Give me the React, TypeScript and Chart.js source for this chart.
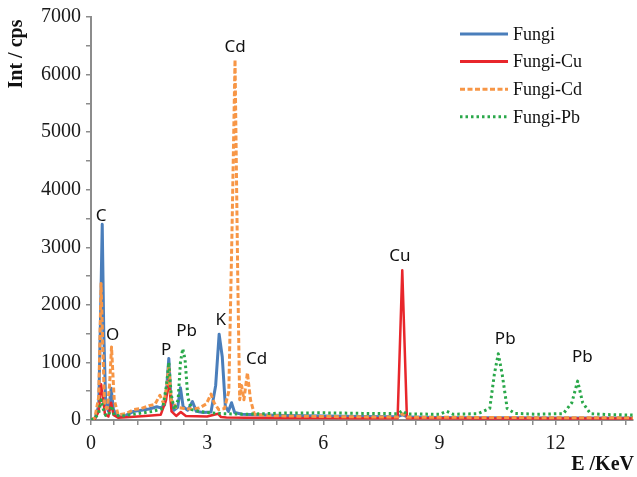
import React, { useEffect, useRef } from "react";
import { Chart, registerables } from "chart.js";

Chart.register(...registerables);

// ---- Data ----
const fungiE = [0, 0.1, 0.2, 0.25, 0.29, 0.33, 0.38, 0.45, 0.52, 0.58, 0.7, 0.9, 1.1, 1.3, 1.5, 1.7, 1.8, 1.9, 1.96, 2.01, 2.06, 2.14, 2.24, 2.31, 2.38, 2.5, 2.62, 2.72, 2.9, 3.1, 3.22, 3.31, 3.39, 3.47, 3.55, 3.63, 3.71, 3.9, 4.3, 5, 6, 7, 7.9, 8.04, 8.2, 9, 10, 11, 12, 13, 14];
const fungiInt = [0, 20, 250, 1900, 3400, 1500, 300, 150, 550, 180, 60, 80, 150, 170, 190, 230, 210, 260, 600, 1070, 420, 170, 220, 560, 230, 170, 320, 150, 130, 140, 600, 1490, 1100, 240, 150, 300, 130, 100, 90, 80, 70, 60, 55, 90, 50, 45, 40, 38, 35, 35, 35];

const cuE = [0, 0.1, 0.2, 0.26, 0.3, 0.36, 0.45, 0.52, 0.58, 0.7, 1, 1.4, 1.8, 1.94, 2.01, 2.08, 2.2, 2.32, 2.45, 3, 3.28, 3.36, 3.5, 4, 5, 6, 7, 7.92, 8.04, 8.16, 9, 10, 11, 12, 13, 14];
const cuInt = [0, 20, 150, 620, 450, 100, 60, 300, 90, 40, 50, 70, 90, 350, 700, 150, 70, 140, 70, 60, 110, 50, 45, 40, 35, 35, 32, 32, 2600, 32, 30, 28, 26, 25, 25, 25];

const cdE = [0, 0.1, 0.2, 0.26, 0.3, 0.35, 0.42, 0.48, 0.53, 0.6, 0.7, 0.9, 1.1, 1.3, 1.5, 1.65, 1.78, 1.88, 1.96, 2.01, 2.07, 2.2, 2.4, 2.6, 2.8, 2.98, 3.1, 3.18, 3.3, 3.45, 3.56, 3.64, 3.72, 3.79, 3.84, 3.89, 3.95, 4.04, 4.12, 4.22, 4.5, 5, 6, 7, 7.92, 8.04, 8.16, 9, 10, 11, 12, 13, 14];
const cdInt = [0, 40, 400, 2370, 1400, 250, 200, 600, 1270, 350, 90, 110, 180, 200, 250, 270, 430, 280, 600, 950, 350, 220, 200, 190, 210, 280, 450, 300, 180, 200, 500, 3200, 6260, 2500, 350, 600, 350, 820, 350, 100, 80, 70, 60, 55, 50, 110, 50, 48, 45, 42, 40, 40, 40];

const pbE = [0, 0.1, 0.2, 0.26, 0.31, 0.38, 0.46, 0.53, 0.6, 0.8, 1.2, 1.6, 1.85, 1.95, 2.01, 2.07, 2.15, 2.25, 2.31, 2.37, 2.43, 2.5, 2.6, 2.8, 3.0, 3.4, 4, 5, 6, 7, 7.92, 8.04, 8.16, 9, 9.19, 9.35, 10, 10.3, 10.42, 10.52, 10.62, 10.75, 10.95, 11.5, 12.2, 12.42, 12.57, 12.7, 12.9, 13.3, 14];
const pbInt = [0, 30, 120, 350, 200, 80, 90, 250, 80, 70, 110, 150, 200, 600, 1000, 450, 180, 350, 1000, 1240, 1050, 400, 180, 150, 130, 110, 100, 120, 125, 115, 110, 160, 105, 100, 150, 100, 110, 200, 800, 1150, 800, 200, 115, 100, 110, 300, 675, 300, 110, 95, 85];

const seriesNames = ["Fungi", "Fungi-Cu", "Fungi-Cd", "Fungi-Pb"];

const xTickValues = [0, 0.6, 1.2, 1.8, 2.4, 3, 3.6, 4.2, 4.8, 5.4, 6, 6.6, 7.2, 7.8, 8.4, 9, 9.6, 10.2, 10.8, 11.4, 12, 12.6, 13.2, 13.8];
const xTickLabels = [0, 3, 6, 9, 12];
const yTickValues = [0, 500, 1000, 1500, 2000, 2500, 3000, 3500, 4000, 4500, 5000, 5500, 6000, 6500, 7000];
const yTickLabels = [0, 1000, 2000, 3000, 4000, 5000, 6000, 7000];

const peakLabels = ["C", "O", "P", "Pb", "K", "Cd", "Cd", "Cu", "Pb", "Pb"];
const peakLabelE = [0.26, 0.56, 1.94, 2.47, 3.35, 3.72, 4.28, 7.98, 10.7, 12.69];
const peakLabelInt = [3540, 1470, 1210, 1540, 1730, 6480, 1050, 2840, 1400, 1090];

const toPoints = (xs: number[], ys: number[]) => xs.map((x, i) => ({ x, y: ys[i] }));

const SERIF = '"Liberation Serif", "Times New Roman", serif';

const overlayPlugin = {
  id: "overlay",
  afterDraw(chart: any) {
    const ctx = chart.ctx;
    const xs = chart.scales.x;
    const ys = chart.scales.y;
    ctx.save();
    // peak annotations
    ctx.font = '17px "Noto Sans", sans-serif';
    ctx.fillStyle = "#111";
    ctx.textAlign = "center";
    ctx.textBaseline = "middle";
    peakLabels.forEach((t, i) => {
      ctx.fillText(t, xs.getPixelForValue(peakLabelE[i]), ys.getPixelForValue(peakLabelInt[i]));
    });
    // legend
    chart.data.datasets.forEach((ds: any, i: number) => {
      const y = 34 + i * 27.6;
      ctx.beginPath();
      ctx.strokeStyle = ds.borderColor;
      ctx.lineWidth = 3;
      ctx.setLineDash(ds.borderDash || []);
      ctx.moveTo(460, y);
      ctx.lineTo(508, y);
      ctx.stroke();
      ctx.setLineDash([]);
      ctx.font = `18px ${SERIF}`;
      ctx.fillStyle = "#111";
      ctx.textAlign = "left";
      ctx.textBaseline = "middle";
      ctx.fillText(ds.label, 513, y + 1);
    });
    // axis titles
    ctx.font = `bold 20px ${SERIF}`;
    ctx.fillStyle = "#111";
    ctx.textAlign = "center";
    ctx.textBaseline = "middle";
    ctx.save();
    ctx.translate(17, 54);
    ctx.rotate(-Math.PI / 2);
    ctx.fillText("Int / cps", 0, 0);
    ctx.restore();
    ctx.textAlign = "right";
    ctx.fillText("E /KeV", 634, 465);
    ctx.restore();
  },
};

export default function App() {
  const ref = useRef<HTMLCanvasElement>(null);
  useEffect(() => {
    if (!ref.current) return;
    const axisColor = "#8c8c8c";
    const chart = new Chart(ref.current, {
      type: "line",
      data: {
        datasets: [
          { label: seriesNames[0], data: toPoints(fungiE, fungiInt), borderColor: "#4a7ebb", borderWidth: 3, order: 4 },
          { label: seriesNames[1], data: toPoints(cuE, cuInt), borderColor: "#e8262b", borderWidth: 2.5, order: 3 },
          { label: seriesNames[2], data: toPoints(cdE, cdInt), borderColor: "#f79646", borderWidth: 3, borderDash: [5, 2.5], order: 2 },
          { label: seriesNames[3], data: toPoints(pbE, pbInt), borderColor: "#2aa84a", borderWidth: 3, borderDash: [2.5, 3], order: 1 },
        ] as any,
      },
      options: {
        animation: false,
        responsive: false,
        layout: { padding: { top: 16, right: 4, left: 0, bottom: 0 } },
        elements: { point: { radius: 0 }, line: { tension: 0, borderJoinStyle: "round" } },
        plugins: { legend: { display: false }, tooltip: { enabled: false } },
        scales: {
          x: {
            type: "linear",
            min: 0,
            max: 14,
            afterBuildTicks: (s: any) => {
              s.ticks = xTickValues.map((v) => ({ value: v }));
            },
            afterFit: (s: any) => {
              s.height = 57;
            },
            grid: { drawOnChartArea: false, drawTicks: true, tickLength: 5, color: axisColor, lineWidth: 1.5 },
            border: { display: true, color: axisColor, width: 2 },
            ticks: {
              autoSkip: false,
              maxRotation: 0,
              padding: 7,
              color: "#1a1a1a",
              font: { family: SERIF, size: 20 },
              callback: (v: any) => (xTickLabels.includes(Number(v)) ? String(v) : ""),
            },
          },
          y: {
            type: "linear",
            min: 0,
            max: 7000,
            afterBuildTicks: (s: any) => {
              s.ticks = yTickValues.map((v) => ({ value: v }));
            },
            afterFit: (s: any) => {
              s.width = 91;
            },
            grid: { drawOnChartArea: false, drawTicks: true, tickLength: 5, color: axisColor, lineWidth: 1.5 },
            border: { display: true, color: axisColor, width: 2 },
            ticks: {
              autoSkip: false,
              padding: 5,
              color: "#1a1a1a",
              font: { family: SERIF, size: 20 },
              callback: (v: any) => (yTickLabels.includes(Number(v)) ? String(v) : ""),
            },
          },
        },
      } as any,
      plugins: [overlayPlugin],
    });
    return () => chart.destroy();
  }, []);
  return (
    <div style={{ position: "fixed", left: 0, top: 0, width: 637, height: 477, background: "#fff" }}>
      <canvas ref={ref} width={637} height={477} style={{ width: 637, height: 477 }} />
    </div>
  );
}
